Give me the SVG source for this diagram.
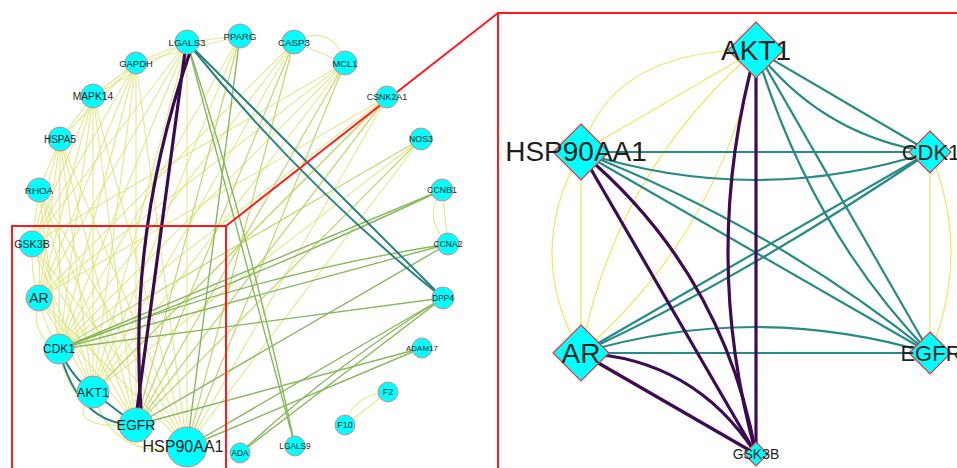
<svg xmlns="http://www.w3.org/2000/svg" width="957" height="468" viewBox="0 0 957 468">
  <style>
    .y  { stroke: #dfe27a; stroke-width: 1.2; fill: none; opacity: 0.8; }
    .yg { stroke: #bfd36a; stroke-width: 1.3; fill: none; opacity: 0.9; }
    .g  { stroke: #86b85c; stroke-width: 1.4; fill: none; }
    .t  { stroke: #2b8181; stroke-width: 2; fill: none; }
    .p  { stroke: #3a0a4e; stroke-width: 3.2; fill: none; }
    .ry { stroke: #f4e35e; stroke-width: 1.2; fill: none; }
    .rt { stroke: #268a87; stroke-width: 2.2; fill: none; }
    .rp { stroke: #3d0b52; stroke-width: 3.2; fill: none; }
    .nd { fill: #00ffff; stroke: #d58a8a; stroke-width: 1; }
    .dm { fill: #00ffff; stroke: #e8333a; stroke-width: 1.2; }
    .lb { font-family: "Liberation Sans", Arial, sans-serif; fill: #1e1e1e; text-anchor: middle; }
    .zoom { stroke: #ff1a1a; stroke-width: 2; fill: none; }
  </style>

  <!-- small network: circular layout -->
  <g id="connectors-left">
    <!-- weak interactions -->
    <line class="y" x1="136" y1="63" x2="187" y2="447"/>
    <line class="y" x1="136" y1="63" x2="136" y2="425"/>
    <line class="y" x1="136" y1="63" x2="93" y2="392"/>
    <line class="y" x1="136" y1="63" x2="59" y2="349"/>
    <line class="y" x1="136" y1="63" x2="39" y2="298"/>
    <line class="y" x1="136" y1="63" x2="32" y2="244"/>
    <line class="y" x1="136" y1="63" x2="93" y2="96"/>
    <line class="y" x1="136" y1="63" x2="187" y2="42"/>
    <line class="y" x1="136" y1="63" x2="60" y2="139"/>
    <line class="y" x1="93" y1="96" x2="187" y2="447"/>
    <line class="y" x1="93" y1="96" x2="136" y2="425"/>
    <line class="y" x1="93" y1="96" x2="93" y2="392"/>
    <line class="y" x1="93" y1="96" x2="59" y2="349"/>
    <line class="y" x1="93" y1="96" x2="39" y2="298"/>
    <line class="y" x1="93" y1="96" x2="32" y2="244"/>
    <line class="y" x1="93" y1="96" x2="187" y2="42"/>
    <line class="y" x1="93" y1="96" x2="60" y2="139"/>
    <line class="y" x1="60" y1="139" x2="187" y2="447"/>
    <line class="y" x1="60" y1="139" x2="136" y2="425"/>
    <line class="y" x1="60" y1="139" x2="93" y2="392"/>
    <line class="y" x1="60" y1="139" x2="59" y2="349"/>
    <line class="y" x1="60" y1="139" x2="39" y2="298"/>
    <line class="y" x1="60" y1="139" x2="32" y2="244"/>
    <line class="y" x1="60" y1="139" x2="39" y2="190"/>
    <line class="y" x1="39" y1="190" x2="187" y2="447"/>
    <line class="y" x1="39" y1="190" x2="136" y2="425"/>
    <line class="y" x1="39" y1="190" x2="93" y2="392"/>
    <line class="y" x1="39" y1="190" x2="59" y2="349"/>
    <line class="y" x1="39" y1="190" x2="32" y2="244"/>
    <line class="y" x1="32" y1="244" x2="187" y2="447"/>
    <line class="y" x1="32" y1="244" x2="136" y2="425"/>
    <line class="y" x1="32" y1="244" x2="93" y2="392"/>
    <path class="y" d="M32 244 Q30 300 59 349"/>
    <line class="y" x1="39" y1="298" x2="187" y2="447"/>
    <line class="y" x1="39" y1="298" x2="136" y2="425"/>
    <line class="y" x1="39" y1="298" x2="93" y2="392"/>
    <path class="y" d="M39 298 Q28 335 59 349"/>
    <path class="y" d="M39 298 Q42 250 32 244"/>
    <line class="y" x1="187" y1="42" x2="187" y2="447"/>
    <line class="y" x1="187" y1="42" x2="93" y2="392"/>
    <line class="y" x1="187" y1="42" x2="59" y2="349"/>
    <line class="y" x1="187" y1="42" x2="39" y2="298"/>
    <line class="y" x1="187" y1="42" x2="32" y2="244"/>
    <line class="y" x1="187" y1="42" x2="240" y2="36"/>
    <line class="y" x1="240" y1="36" x2="93" y2="392"/>
    <line class="y" x1="240" y1="36" x2="59" y2="349"/>
    <line class="y" x1="240" y1="36" x2="136" y2="63"/>
    <line class="y" x1="294" y1="42" x2="93" y2="392"/>
    <line class="y" x1="294" y1="42" x2="59" y2="349"/>
    <line class="y" x1="294" y1="42" x2="39" y2="298"/>
    <line class="y" x1="294" y1="42" x2="345" y2="63"/>
    <path class="y" d="M294 42 Q332 22 345 63"/>
    <line class="y" x1="345" y1="63" x2="93" y2="392"/>
    <line class="y" x1="345" y1="63" x2="59" y2="349"/>
    <line class="y" x1="345" y1="63" x2="39" y2="298"/>
    <line class="y" x1="345" y1="63" x2="32" y2="244"/>
    <line class="y" x1="387" y1="97" x2="93" y2="392"/>
    <line class="y" x1="387" y1="97" x2="59" y2="349"/>
    <line class="y" x1="387" y1="97" x2="39" y2="298"/>
    <line class="y" x1="387" y1="97" x2="187" y2="447"/>
    <line class="y" x1="421" y1="139" x2="93" y2="392"/>
    <line class="y" x1="421" y1="139" x2="187" y2="447"/>
    <line class="y" x1="442" y1="190" x2="448" y2="244"/>
    <path class="y" d="M442 190 Q422 218 448 244"/>
    <line class="y" x1="388" y1="392" x2="345" y2="425"/>
    <path class="y" d="M388 392 Q352 395 345 425"/>
    <path class="y" d="M93 392 Q112 462 187 447"/>
    <path class="y" d="M59 349 Q70 420 136 425"/>
    <path class="y" d="M136 425 Q160 468 187 447"/>
    <path class="y" d="M93 392 Q60 430 136 425"/>
    <!-- medium interactions -->
    <line class="yg" x1="387" y1="97" x2="136" y2="425"/>
    <line class="yg" x1="421" y1="139" x2="59" y2="349"/>
    <line class="yg" x1="421" y1="139" x2="136" y2="425"/>
    <line class="yg" x1="294" y1="42" x2="187" y2="447"/>
    <line class="yg" x1="294" y1="42" x2="136" y2="425"/>
    <line class="yg" x1="345" y1="63" x2="136" y2="425"/>
    <line class="yg" x1="345" y1="63" x2="187" y2="447"/>
    <line class="yg" x1="240" y1="36" x2="136" y2="425"/>
    <line class="yg" x1="387" y1="97" x2="93" y2="392"/>
    <!-- stronger interactions -->
    <line class="g" x1="240" y1="36" x2="187" y2="447"/>
    <line class="g" x1="187" y1="42" x2="295" y2="446"/>
    <path class="g" d="M187 42 Q250 235 295 446"/>
    <line class="g" x1="442" y1="190" x2="59" y2="349"/>
    <path class="g" d="M442 190 Q240 285 59 349"/>
    <line class="g" x1="448" y1="244" x2="59" y2="349"/>
    <path class="g" d="M448 244 Q250 275 59 349"/>
    <line class="g" x1="443" y1="298" x2="59" y2="349"/>
    <line class="g" x1="422" y1="348" x2="136" y2="425"/>
    <line class="g" x1="422" y1="348" x2="187" y2="447"/>
    <line class="g" x1="443" y1="298" x2="240" y2="453"/>
    <path class="g" d="M443 298 Q335 365 240 453"/>
    <line class="g" x1="443" y1="298" x2="187" y2="447"/>
    <line class="g" x1="448" y1="244" x2="136" y2="425"/>
    <!-- strongest interactions -->
    <line class="t" x1="187" y1="42" x2="443" y2="298"/>
    <path class="t" d="M187 42 Q301 184 443 298"/>
    <path class="t" d="M59 349 Q78 425 136 425"/>
    <path class="t" d="M59 349 Q72 378 93 392"/>
    <line class="t" x1="93" y1="392" x2="136" y2="425"/>
    <line class="p" x1="185" y1="52" x2="137" y2="410"/>
    <path class="p" d="M190 52 Q128 231 141 410"/>
  </g>

  <!-- magnification frame -->
  <g id="zoom-frame">
    <rect class="zoom" x="12" y="226" width="214" height="260"/>
    <line class="zoom" x1="226" y1="226" x2="498" y2="13"/>
    <rect class="zoom" x="498" y="13" width="470" height="470"/>
  </g>

  <!-- small network nodes -->
  <g id="n-LGALS3"><circle class="nd" cx="187" cy="42" r="12"/><text class="lb" x="187" y="45.5" font-size="9.8">LGALS3</text></g>
  <g id="n-PPARG"><circle class="nd" cx="240" cy="36" r="12"/><text class="lb" x="240" y="39.5" font-size="9.6">PPARG</text></g>
  <g id="n-CASP3"><circle class="nd" cx="294" cy="42" r="12"/><text class="lb" x="294" y="45.5" font-size="9.8">CASP3</text></g>
  <g id="n-MCL1"><circle class="nd" cx="345" cy="63" r="12"/><text class="lb" x="345" y="66.5" font-size="9.4">MCL1</text></g>
  <g id="n-CSNK2A1"><circle class="nd" cx="387" cy="97" r="11"/><text class="lb" x="387" y="100" font-size="8.9">CSNK2A1</text></g>
  <g id="n-NOS3"><circle class="nd" cx="421" cy="139" r="11"/><text class="lb" x="421" y="142" font-size="8.8">NOS3</text></g>
  <g id="n-CCNB1"><circle class="nd" cx="442" cy="190" r="11"/><text class="lb" x="442" y="193" font-size="8.8">CCNB1</text></g>
  <g id="n-CCNA2"><circle class="nd" cx="448" cy="244" r="11"/><text class="lb" x="448" y="247" font-size="8.5">CCNA2</text></g>
  <g id="n-DPP4"><circle class="nd" cx="443" cy="298" r="11"/><text class="lb" x="443" y="301" font-size="8.2">DPP4</text></g>
  <g id="n-ADAM17"><circle class="nd" cx="422" cy="348" r="10"/><text class="lb" x="422" y="351" font-size="8">ADAM17</text></g>
  <g id="n-F2"><circle class="nd" cx="388" cy="392" r="10"/><text class="lb" x="388" y="395" font-size="9">F2</text></g>
  <g id="n-F10"><circle class="nd" cx="345" cy="425" r="10"/><text class="lb" x="345" y="428" font-size="9">F10</text></g>
  <g id="n-LGALS9"><circle class="nd" cx="295" cy="446" r="10"/><text class="lb" x="295" y="449" font-size="8.3">LGALS9</text></g>
  <g id="n-ADA"><circle class="nd" cx="240" cy="453" r="10"/><text class="lb" x="240" y="456" font-size="8.4">ADA</text></g>
  <g id="n-HSP90AA1"><circle class="nd" cx="187" cy="447" r="20"/><text class="lb" x="183" y="452" font-size="16">HSP90AA1</text></g>
  <g id="n-EGFR"><circle class="nd" cx="136" cy="425" r="17"/><text class="lb" x="136" y="430" font-size="14">EGFR</text></g>
  <g id="n-AKT1"><circle class="nd" cx="93" cy="392" r="16"/><text class="lb" x="93" y="396.5" font-size="13">AKT1</text></g>
  <g id="n-CDK1"><circle class="nd" cx="59" cy="349" r="15"/><text class="lb" x="59" y="353" font-size="12">CDK1</text></g>
  <g id="n-AR"><circle class="nd" cx="39" cy="298" r="13"/><text class="lb" x="39" y="303" font-size="14">AR</text></g>
  <g id="n-GSK3B"><circle class="nd" cx="32" cy="244" r="13"/><text class="lb" x="32" y="248" font-size="10.7">GSK3B</text></g>
  <g id="n-RHOA"><circle class="nd" cx="39" cy="190" r="12"/><text class="lb" x="39" y="193.5" font-size="9.8">RHOA</text></g>
  <g id="n-HSPA5"><circle class="nd" cx="60" cy="139" r="12"/><text class="lb" x="60" y="142.5" font-size="10">HSPA5</text></g>
  <g id="n-MAPK14"><circle class="nd" cx="93" cy="96" r="12"/><text class="lb" x="93" y="99.5" font-size="10.3">MAPK14</text></g>
  <g id="n-GAPDH"><circle class="nd" cx="136" cy="63" r="11"/><text class="lb" x="136" y="66.5" font-size="9.4">GAPDH</text></g>

  <!-- enlarged core network -->
  <g id="connectors-core">
    <line class="ry" x1="756" y1="50" x2="581" y2="152"/>
    <path class="ry" d="M756 50 Q611 49 581 152"/>
    <line class="ry" x1="581" y1="152" x2="581" y2="353"/>
    <path class="ry" d="M581 152 Q523 253 581 353"/>
    <path class="ry" d="M756 50 Q616 171 581 353"/>
    <path class="ry" d="M756 50 Q721 232 581 353"/>
    <line class="ry" x1="930" y1="152" x2="930" y2="353"/>
    <path class="ry" d="M930 152 Q972 252 930 353"/>

    <line class="rt" x1="756" y1="50" x2="930" y2="152"/>
    <path class="rt" d="M756 50 Q823 136 930 152"/>
    <line class="rt" x1="756" y1="50" x2="930" y2="353"/>
    <path class="rt" d="M756 50 Q810 230 930 353"/>
    <line class="rt" x1="581" y1="152" x2="930" y2="152"/>
    <path class="rt" d="M581 152 Q755 208 930 152"/>
    <line class="rt" x1="581" y1="152" x2="930" y2="353"/>
    <path class="rt" d="M581 152 Q770 225 930 353"/>
    <line class="rt" x1="581" y1="353" x2="930" y2="152"/>
    <path class="rt" d="M581 353 Q740 280 930 152"/>
    <line class="rt" x1="581" y1="353" x2="930" y2="353"/>
    <path class="rt" d="M581 353 Q755 301 930 353"/>

    <line class="rp" x1="756" y1="50" x2="756" y2="454"/>
    <path class="rp" d="M756 50 Q700 252 756 454"/>
    <line class="rp" x1="581" y1="152" x2="756" y2="454"/>
    <path class="rp" d="M581 152 Q723 271 756 454"/>
    <line class="rp" x1="581" y1="353" x2="756" y2="454"/>
    <path class="rp" d="M581 353 Q694 358 756 454"/>
  </g>

  <g id="c-AKT1"><polygon class="dm" points="756,22 784,50 756,78 728,50"/><text class="lb" x="756" y="60" font-size="28">AKT1</text></g>
  <g id="c-HSP90AA1"><polygon class="dm" points="581,124 609,152 581,180 553,152"/><text class="lb" x="576" y="161" font-size="28">HSP90AA1</text></g>
  <g id="c-CDK1"><polygon class="dm" points="930,131 951,152 930,173 909,152"/><text class="lb" x="931" y="159.5" font-size="22">CDK1</text></g>
  <g id="c-AR"><polygon class="dm" points="581,325 609,353 581,381 553,353"/><text class="lb" x="581" y="363" font-size="28">AR</text></g>
  <g id="c-EGFR"><polygon class="dm" points="930,332 951,353 930,374 909,353"/><text class="lb" x="931" y="361" font-size="22">EGFR</text></g>
  <g id="c-GSK3B"><polygon class="dm" points="756,442 768,454 756,466 744,454"/><text class="lb" x="756" y="459" font-size="14">GSK3B</text></g>
</svg>
